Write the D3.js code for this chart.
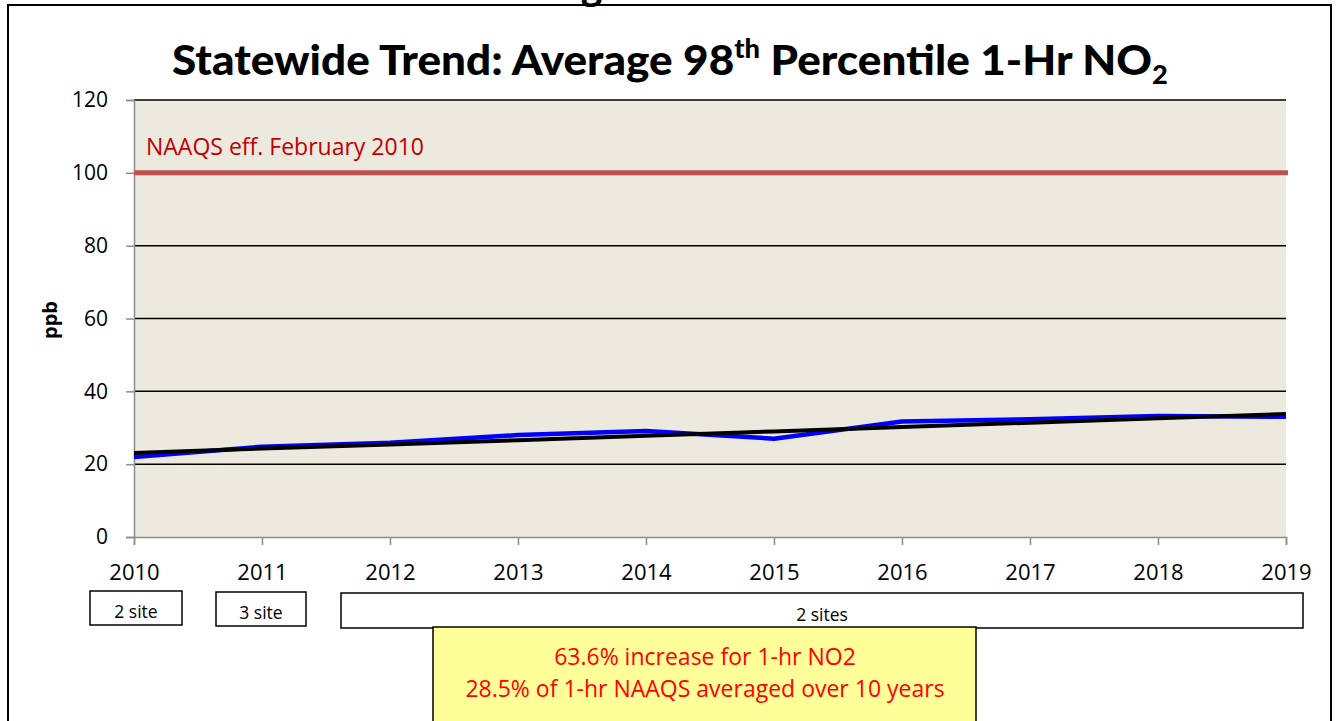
<!DOCTYPE html>
<html><head><meta charset="utf-8">
<script src="https://cdn.jsdelivr.net/npm/d3@7"></script>
<style>
html,body{margin:0;padding:0;background:#fff;}
svg{display:block;font-family:"Open Sans",sans-serif;}
</style></head>
<body>
<svg id="chart" width="1341" height="721"></svg>
<script>
// ---- data ----
const years = [2010, 2011, 2012, 2013, 2014, 2015, 2016, 2017, 2018, 2019];
const avgNO2 = [22.0, 24.8, 25.9, 28.0, 29.1, 27.0, 31.7, 32.3, 33.2, 33.0];
const trendNO2 = [23.1, 24.3, 25.4, 26.6, 27.8, 29.0, 30.2, 31.4, 32.6, 33.8];
const naaqsValue = 100;
const yTicks = [0, 20, 40, 60, 80, 100, 120];
const siteGroups = [
  {label: "2 site", from: 2010, to: 2010},
  {label: "3 site", from: 2011, to: 2011},
  {label: "2 sites", from: 2012, to: 2019}
];
const noteLines = ["63.6% increase for 1-hr NO2", "28.5% of 1-hr NAAQS averaged over 10 years"];

const svg = d3.select("#chart");
const L = 134, R = 1286, T = 100, B = 537;
const x = d3.scaleLinear().domain([2010, 2019]).range([L, R]);
const y = d3.scaleLinear().domain([0, 120]).range([B, T]);

// outer frame
svg.append("rect").attr("x", 8).attr("y", 5).attr("width", 1323).attr("height", 730)
  .attr("fill", "#fff").attr("stroke", "#000").attr("stroke-width", 2);
// cut-off glyph of a heading above (partial "g")
svg.append("text").attr("x", 592).attr("y", -2).attr("text-anchor", "middle")
  .attr("font-family", "Open Sans").attr("font-weight", "bold").attr("font-size", 36).text("g");

// title
const title = svg.append("text").attr("y", 75).attr("font-weight", "900")
  .attr("font-family", "Lato, 'Open Sans', sans-serif").attr("font-size", 42).attr("fill", "#000");
title.append("tspan").text("Statewide Trend: Average 98");
title.append("tspan").attr("font-size", 26).attr("dy", -17).text("th");
title.append("tspan").attr("dy", 17).text(" Percentile 1-Hr NO");
title.append("tspan").attr("font-size", 26).attr("dy", 9).text("2");
{
  const w = title.node().getComputedTextLength();
  const target = 996, cx = 670;
  const s = target / w;
  title.attr("transform", `translate(${cx - target / 2},0) scale(${s},1)`).attr("x", 0);
}

// plot background
svg.append("rect").attr("x", L).attr("y", T).attr("width", R - L).attr("height", B - T).attr("fill", "#ece9df");

// gridlines
svg.append("g").selectAll("line").data(yTicks.filter(d => d > 0)).join("line")
  .attr("x1", L).attr("x2", R).attr("y1", d => y(d)).attr("y2", d => y(d))
  .attr("stroke", "#000").attr("stroke-width", 1.5);

// y axis
const yAxis = svg.append("g").attr("transform", `translate(${L},0)`)
  .call(d3.axisLeft(y).tickValues(yTicks).tickSize(8).tickPadding(18).tickFormat(d3.format("d")));
yAxis.select(".domain").attr("stroke", "#8c8c8c").attr("stroke-width", 1.5);
yAxis.selectAll(".tick line").attr("stroke", "#8c8c8c").attr("stroke-width", 1.5);
yAxis.selectAll(".tick text").attr("font-size", 21).attr("fill", "#000").attr("font-family", "Open Sans");

// x axis
const xAxis = svg.append("g").attr("transform", `translate(0,${B})`)
  .call(d3.axisBottom(x).tickValues(years).tickSize(8).tickPadding(19).tickFormat(d3.format("d")));
xAxis.select(".domain").attr("stroke", "#8c8c8c").attr("stroke-width", 1.5);
xAxis.selectAll(".tick line").attr("stroke", "#8c8c8c").attr("stroke-width", 1.5);
xAxis.selectAll(".tick text").attr("font-size", 22).attr("fill", "#000").attr("font-family", "Open Sans");

// y label
svg.append("text").attr("transform", `translate(57,${320}) rotate(-90)`).attr("text-anchor", "middle")
  .attr("font-weight", "bold").attr("font-size", 20).attr("font-family", "Open Sans").text("ppb");

// NAAQS line
svg.append("line").attr("x1", L).attr("x2", R + 2).attr("y1", y(naaqsValue)).attr("y2", y(naaqsValue))
  .attr("stroke", "#c0504d").attr("stroke-width", 5);
svg.append("text").attr("x", 146).attr("y", 155).attr("font-size", 23).attr("fill", "#c00000")
  .attr("font-family", "Open Sans").text("NAAQS eff. February 2010");

// series
const line = d3.line().x((d, i) => x(years[i])).y(d => y(d));
svg.append("path").datum(avgNO2).attr("d", line).attr("fill", "none")
  .attr("stroke", "#0000ff").attr("stroke-width", 4.5).attr("stroke-linejoin", "round");
svg.append("path").datum(trendNO2).attr("d", line).attr("fill", "none")
  .attr("stroke", "#000").attr("stroke-width", 4);

// site boxes
const boxGeom = [
  {x0: 90, x1: 182, y0: 591, y1: 625},
  {x0: 216, x1: 306, y0: 592, y1: 626},
  {x0: 341, x1: 1303, y0: 593, y1: 628}
];
const sg = svg.append("g").selectAll("g").data(siteGroups).join("g");
sg.append("rect").attr("x", (d, i) => boxGeom[i].x0).attr("y", (d, i) => boxGeom[i].y0)
  .attr("width", (d, i) => boxGeom[i].x1 - boxGeom[i].x0).attr("height", (d, i) => boxGeom[i].y1 - boxGeom[i].y0)
  .attr("fill", "#fff").attr("stroke", "#000").attr("stroke-width", 1.5);
sg.append("text").attr("x", (d, i) => (boxGeom[i].x0 + boxGeom[i].x1) / 2)
  .attr("y", (d, i) => boxGeom[i].y1 - 7).attr("text-anchor", "middle")
  .attr("font-size", 17.5).attr("font-family", "Open Sans").text(d => d.label);

// note box
svg.append("rect").attr("x", 433).attr("y", 627).attr("width", 543).attr("height", 120)
  .attr("fill", "#ffff99").attr("stroke", "#000").attr("stroke-width", 1.5);
svg.append("g").selectAll("text").data(noteLines).join("text")
  .attr("x", 705).attr("y", (d, i) => 665 + i * 32).attr("text-anchor", "middle")
  .attr("font-size", 23).attr("fill", "#ff0000").attr("font-family", "Open Sans").text(d => d);
</script>
</body></html>
